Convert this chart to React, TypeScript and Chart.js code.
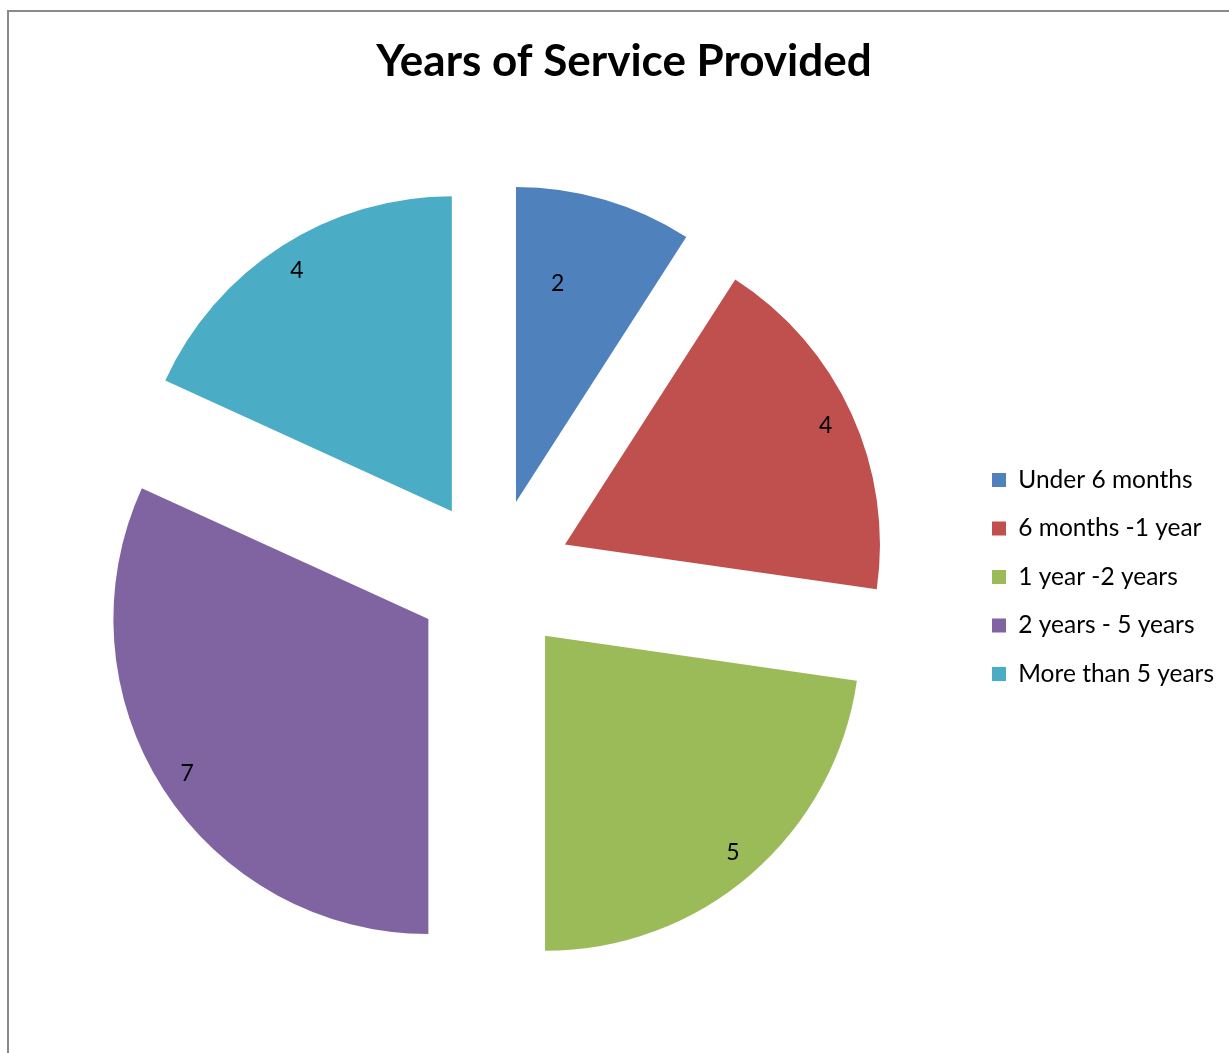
import React, { useEffect, useRef } from "react";
import { Chart, registerables } from "chart.js";

Chart.register(...registerables);

// ---- data ----
const categories = [
  "Under 6 months",
  "6 months -1 year",
  "1 year -2 years",
  "2 years - 5 years",
  "More than 5 years",
];
const counts = [2, 4, 5, 7, 4];
const sliceColors = ["#4F81BD", "#C0504D", "#9BBB59", "#8064A2", "#4BACC6"];
const chartTitle = "Years of Service Provided";

// ---- style constants ----
const FONT = "Lato, 'Open Sans', sans-serif";
const EXPLODE = 78; // distance each slice is pulled out of the centre
const PIE_RADIUS = 315;
const LEGEND_WIDTH = 260;

// Draw each arc translated outward along its mid-angle (Excel-style exploded pie)
const explodePlugin = {
  id: "explodedSlices",
  beforeDatasetDraw(chart: any, args: any) {
    const ctx = chart.ctx;
    args.meta.data.forEach((el: any) => {
      const { startAngle, endAngle } = el.getProps(["startAngle", "endAngle"], true);
      const mid = (startAngle + endAngle) / 2;
      ctx.save();
      ctx.translate(Math.cos(mid) * EXPLODE, Math.sin(mid) * EXPLODE);
      el.draw(ctx, chart.chartArea);
      ctx.restore();
    });
    return false;
  },
};

// Value labels inside slices
const valueLabelPlugin = {
  id: "sliceValueLabels",
  afterDatasetsDraw(chart: any) {
    const meta = chart.getDatasetMeta(0);
    const values = chart.data.datasets[0].data;
    const ctx = chart.ctx;
    ctx.save();
    ctx.font = `23px ${FONT}`;
    ctx.fillStyle = "#000";
    ctx.textAlign = "center";
    ctx.textBaseline = "middle";
    meta.data.forEach((el: any, i: number) => {
      const { x, y, startAngle, endAngle, outerRadius } = el.getProps(
        ["x", "y", "startAngle", "endAngle", "outerRadius"],
        true
      );
      const span = endAngle - startAngle;
      const mid = (startAngle + endAngle) / 2;
      const narrow = span < Math.PI / 4;
      const a = startAngle + span * (narrow ? 0.33 : 0.5);
      const r = outerRadius * (narrow ? 0.705 : 0.91);
      const px = x + Math.cos(mid) * EXPLODE + Math.cos(a) * r;
      const py = y + Math.sin(mid) * EXPLODE + Math.sin(a) * r;
      ctx.fillText(String(values[i]), px, py);
    });
    ctx.restore();
  },
};

// Fix the legend column width so the plot area sits where the reference has it
const legendWidthPlugin = {
  id: "fixedLegendWidth",
  beforeLayout(chart: any) {
    const lg = chart.legend;
    if (lg && !lg.__fixedWidth) {
      const orig = lg.fit.bind(lg);
      lg.fit = () => {
        orig();
        lg.width = LEGEND_WIDTH;
      };
      lg.__fixedWidth = true;
    }
  },
};

export default function App() {
  const canvasRef = useRef<HTMLCanvasElement | null>(null);

  useEffect(() => {
    if (!canvasRef.current) return;
    const chart = new Chart(canvasRef.current, {
      type: "pie",
      data: {
        labels: categories,
        datasets: [
          {
            data: counts,
            backgroundColor: sliceColors,
            borderWidth: 0,
            hoverOffset: 0,
            radius: PIE_RADIUS,
          } as any,
        ],
      },
      options: {
        responsive: false,
        animation: false,
        devicePixelRatio: 1,
        events: [],
        layout: { padding: { left: 11, right: 11, top: 0, bottom: 10 } },
        plugins: {
          title: {
            display: true,
            text: chartTitle,
            color: "#000",
            font: { family: FONT, size: 44, weight: "bold", lineHeight: 1.2 },
            padding: { top: 23, bottom: 24 },
          },
          legend: {
            position: "right",
            fullSize: false,
            labels: {
              boxWidth: 14,
              boxHeight: 14,
              padding: 24,
              color: "#000",
              font: { family: FONT, size: 24.5 },
            },
          },
          tooltip: { enabled: false },
        },
      } as any,
      plugins: [explodePlugin, valueLabelPlugin, legendWidthPlugin],
    });
    return () => chart.destroy();
  }, []);

  return (
    <div
      style={{
        position: "fixed",
        left: 0,
        top: 0,
        width: "100vw",
        height: "100vh",
        overflow: "hidden",
        background: "#fff",
      }}
    >
      <div
        style={{
          position: "absolute",
          left: 7,
          top: 10,
          width: 1400,
          height: 1200,
          borderLeft: "2px solid #8a8a8a",
          borderTop: "2px solid #8a8a8a",
        }}
      >
        <canvas
          ref={canvasRef}
          width={1230}
          height={1040}
          style={{ position: "absolute", left: 0, top: 0, display: "block" }}
        />
      </div>
    </div>
  );
}
